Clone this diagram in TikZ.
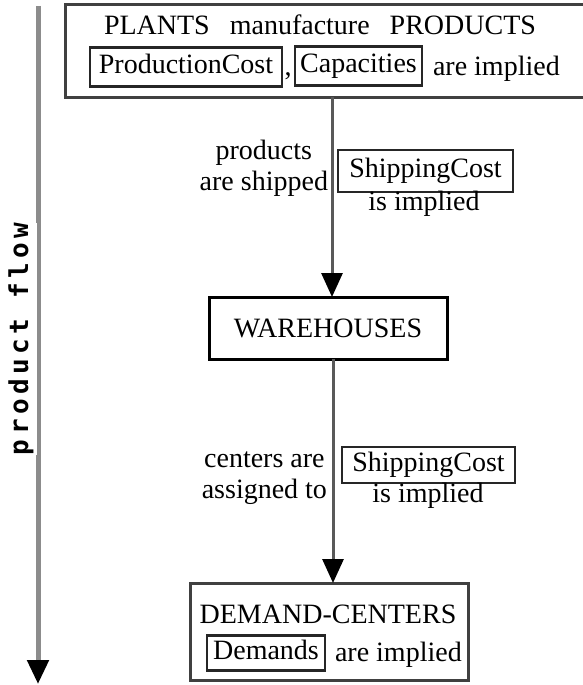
\documentclass[tikz,border=0pt]{standalone}
\usepackage{fontspec}
\setmainfont{Liberation Serif}
\newfontfamily\flowfont[LetterSpace=17]{DejaVu Sans Mono}
\usetikzlibrary{arrows.meta}
\begin{document}
\begin{tikzpicture}[x=1pt,y=-1pt,
  every node/.style={inner sep=0pt, outer sep=0pt, font=\fontsize{28}{31}\selectfont},
  frame/.style={draw=black!75, line width=3pt},
  tagbox/.style={draw=black!85, line width=2.5pt, text height=19pt, text depth=6pt},
  words/.style={anchor=base},
  flow/.style={draw=black!65, line width=3pt, -{Triangle[width=21pt,length=24pt,black]}},
  axisflow/.style={draw=black!45, line width=5pt, -{Triangle[width=21pt,length=24pt,black]}}
]
\useasboundingbox (0,0) rectangle (582,685);

% product flow axis
\coordinate (ftop) at (38,6);
\coordinate (fend) at (38,684);
\draw[axisflow] (ftop) -- (fend);
\node[rotate=90, anchor=base, fill=white, inner xsep=0pt, inner ysep=4pt,
      font=\flowfont\bfseries\fontsize{26}{28}\selectfont] (flowlbl) at (28,339) {product flow};

% plants
\node[frame, minimum width=530pt, minimum height=92pt] (plants) at (330,51) {};
\node[words] (title) at (320,35) {PLANTS\hspace{13pt} manufacture\hspace{13pt} PRODUCTS};
\node[tagbox, minimum width=192pt, minimum height=39pt] (pc) at (186,67) {ProductionCost};
\node[words] (comma) at (288,75) {,};
\node[tagbox, minimum width=127pt, minimum height=39pt] (cap) at (358.5,66) {Capacities};
\node[words, anchor=base west] (imp0) at (433,75) {are implied};

% warehouses
\node[frame, draw=black, minimum width=238pt, minimum height=62pt] (wh) at (328,328) {WAREHOUSES};
\draw[flow] ([xshift=4pt]wh.north |- plants.south) -- ([xshift=4pt]wh.north);
\node[anchor=east, align=center] (lab1) at (328,168.5) {products\\are shipped};
\node[tagbox, minimum width=175pt, minimum height=42pt] (sc1) at (425.5,171) {ShippingCost};
\node[words] (imp1) at (424,210) {is implied};

% demand centers
\node[frame, minimum width=278pt, minimum height=97pt] (dc) at (329,631.5) {};
\draw[flow] ([xshift=5pt]wh.south) -- ([xshift=5pt]wh.south |- dc.north);
\node[anchor=east, align=center] (lab2) at (327,478) {centers are\\assigned to};
\node[tagbox, minimum width=173pt, minimum height=36pt] (sc2) at (428.5,465) {ShippingCost};
\node[words] (imp2) at (428,502) {is implied};

\node[words] (dct) at (328,623) {DEMAND-CENTERS};
\node[tagbox, minimum width=118pt, minimum height=35pt] (dem) at (266,653) {Demands};
\node[words, anchor=base west] (imp3) at (335,661) {are implied};
\end{tikzpicture}
\end{document}
